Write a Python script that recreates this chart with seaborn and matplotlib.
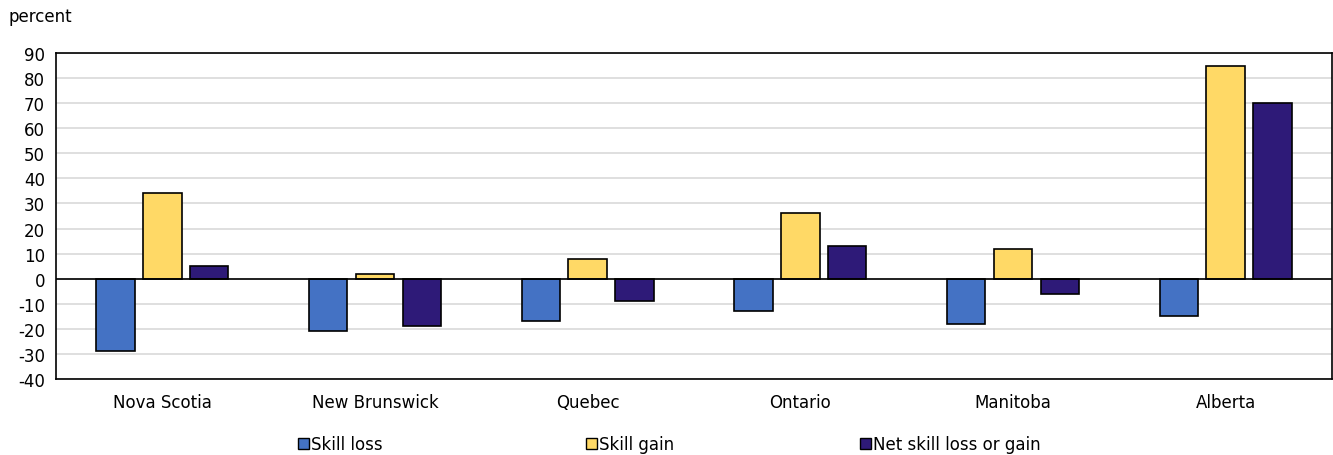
import matplotlib
matplotlib.use("Agg")
import matplotlib.pyplot as plt
import seaborn as sns
import pandas as pd
from matplotlib.patches import Patch

provinces = ["Nova Scotia", "New Brunswick", "Quebec", "Ontario", "Manitoba", "Alberta"]
skill_loss = [-29, -21, -17, -13, -18, -15]
skill_gain = [34, 2, 8, 26, 12, 85]
net_change = [5, -19, -9, 13, -6, 70]
series_names = ["Skill loss", "Skill gain", "Net skill loss or gain"]
colors = ["#4472C4", "#FFD966", "#2E1A78"]
y_ticks = list(range(-40, 91, 10))

df = pd.DataFrame({
    "province": provinces * 3,
    "series": [series_names[0]] * 6 + [series_names[1]] * 6 + [series_names[2]] * 6,
    "value": skill_loss + skill_gain + net_change,
})

sns.set_style("white")
plt.rcParams["font.family"] = "sans-serif"
plt.rcParams["font.sans-serif"] = ["DejaVu Sans"]
plt.rcParams["text.color"] = "black"
plt.rcParams["xtick.color"] = "black"
plt.rcParams["ytick.color"] = "black"

FS = 12

fig = plt.figure(figsize=(13.33, 4.56), dpi=100)
ax = fig.add_axes([56 / 1333, 1 - 380 / 456, 1276 / 1333, 326 / 456])

sns.barplot(data=df, x="province", y="value", hue="series", order=provinces,
            hue_order=series_names, palette=colors, saturation=1, width=0.66, gap=0.18,
            edgecolor="black", linewidth=1.2, ax=ax, legend=False, zorder=3)

ax.set_ylim(-40, 90)
ax.set_xlim(-0.5, len(provinces) - 0.5)
ax.set_yticks(y_ticks)
ax.set_yticklabels([str(t) for t in y_ticks], fontsize=FS)
ax.tick_params(axis="x", labelsize=FS, length=0, pad=10)
ax.tick_params(axis="y", length=0, pad=8)
ax.set_xlabel("")
ax.set_ylabel("")
ax.yaxis.grid(True, color="#D9D9D9", linewidth=1.2, zorder=0)
ax.axhline(0, color="black", linewidth=1.2, zorder=4)
for s in ax.spines.values():
    s.set_visible(True)
    s.set_color("black")
    s.set_linewidth(1.2)

fig.text(9 / 1333, 1 - 17 / 456, "percent", fontsize=FS, va="center", ha="left")

# one legend entry per slot along the bottom
legend_x = [298 / 1333, 586 / 1333, 860 / 1333]
for name, c, lx in zip(series_names, colors, legend_x):
    h = Patch(facecolor=c, edgecolor="black", linewidth=1.0)
    fig.legend([h], [name], loc="center left", bbox_to_anchor=(lx, 1 - 445 / 456),
               frameon=False, fontsize=FS, handlelength=0.65, handleheight=0.65,
               handletextpad=0.15, borderpad=0, borderaxespad=0)

fig.savefig("out.png", dpi=100)
